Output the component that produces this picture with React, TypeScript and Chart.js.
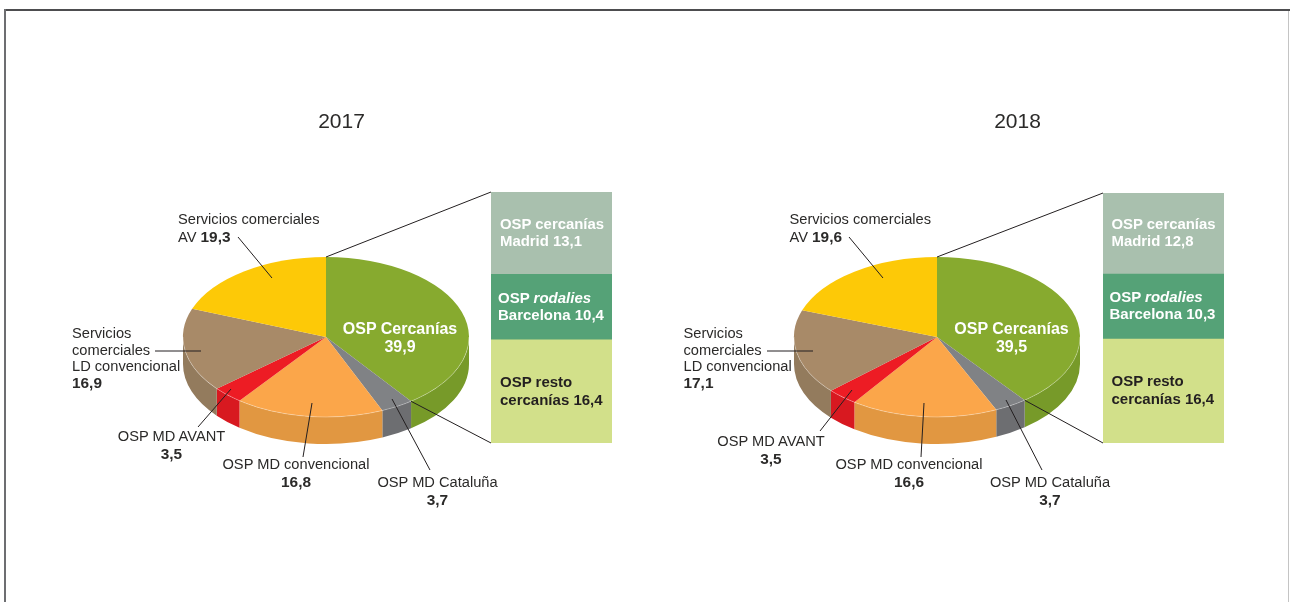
import React, { useEffect, useRef } from "react";
import { Chart, registerables } from "chart.js";

Chart.register(...registerables);

const pieLabels = ["OSP Cercanías", "OSP MD Cataluña", "OSP MD convencional", "OSP MD AVANT", "Servicios comerciales LD convencional", "Servicios comerciales AV"];
const pieValues2017 = [39.9, 3.7, 16.8, 3.5, 16.9, 19.3];
const pieValues2018 = [39.5, 3.7, 16.6, 3.5, 17.1, 19.6];
const barLabels = ["OSP resto cercanías", "OSP rodalies Barcelona", "OSP cercanías Madrid"];
const barValues2017 = [16.4, 10.4, 13.1];
const barValues2018 = [16.4, 10.3, 12.8];

const pieTop = ["#87aa2f", "#808285", "#fba64a", "#ed1c24", "#a88a68", "#fdc907"];
const pieWall = ["#779a29", "#6d6e71", "#e19741", "#d81920", "#937b5d", "#d8ac06"];
const barColors = ["#d2e08a", "#55a277", "#a9c0ae"];

const W = 1290;
const H = 602;
const INK = "#231f20";
const FONT = '"Liberation Sans", Arial, sans-serif';
const RX = 143;
const RY = 80;
const DEPTH = 27;

const fmt = (v: number) => v.toFixed(1).replace(".", ",");

type Seg = [number, number, number, number];

const leaders2017: Seg[] = [
  [238, 237, 272, 278],
  [155, 351, 201, 351],
  [198, 427, 231, 389],
  [303, 457, 312, 403],
  [430, 470, 392, 399],
];
const leaders2018: Seg[] = [
  [849, 237, 883, 278],
  [767, 351, 813, 351],
  [820, 431, 852, 390],
  [921, 457, 924, 403],
  [1042, 470, 1006, 400],
];

function makePie(canvas: HTMLCanvasElement, values: number[], cx: number, cy: number, barX: number, barTop: number, barBottom: number, leaders: Seg[]) {
  const squash: any = {
    id: "squash",
    beforeDatasetsDraw(chart: any) {
      const { ctx } = chart;
      const arcs = chart.getDatasetMeta(0).data;
      arcs.forEach((arc: any, i: number) => {
        const a0 = Math.max(arc.startAngle, 0);
        const a1 = Math.min(arc.endAngle, Math.PI);
        if (a1 <= a0) return;
        ctx.beginPath();
        ctx.ellipse(cx, cy, RX, RY, 0, a0, a1);
        ctx.ellipse(cx, cy + DEPTH, RX, RY, 0, a1, a0, true);
        ctx.closePath();
        ctx.fillStyle = pieWall[i];
        ctx.fill();
      });
      ctx.save();
      ctx.translate(0, cy);
      ctx.scale(1, RY / RX);
      ctx.translate(0, -cy);
    },
    afterDatasetsDraw(chart: any) {
      const { ctx } = chart;
      ctx.restore();
      ctx.beginPath();
      ctx.ellipse(cx, cy, RX, RY, 0, 0, Math.PI);
      ctx.strokeStyle = "rgba(255,255,255,0.3)";
      ctx.lineWidth = 1;
      ctx.stroke();
      const endAngle = chart.getDatasetMeta(0).data[0].endAngle;
      const ex = cx + RX * Math.cos(endAngle);
      const ey = cy + RY * Math.sin(endAngle);
      const segs: Seg[] = [
        [cx, cy - RY, barX, barTop],
        [ex, ey, barX, barBottom],
        ...leaders,
      ];
      ctx.strokeStyle = INK;
      ctx.lineWidth = 1;
      segs.forEach(([x1, y1, x2, y2]) => {
        ctx.beginPath();
        ctx.moveTo(x1, y1);
        ctx.lineTo(x2, y2);
        ctx.stroke();
      });
    },
  };
  return new Chart(canvas, {
    type: "doughnut",
    data: {
      labels: pieLabels,
      datasets: [{ data: values, backgroundColor: pieTop, borderWidth: 0, clip: false } as any],
    },
    options: {
      responsive: false,
      animation: false,
      cutout: 0,
      rotation: 0,
      layout: { padding: { left: cx - RX, right: W - cx - RX, top: cy - RX, bottom: H - cy - RX } },
      plugins: { legend: { display: false }, tooltip: { enabled: false } },
    } as any,
    plugins: [squash],
  });
}

function makeBar(canvas: HTMLCanvasElement, values: number[], left: number, right: number, top: number, bottom: number) {
  const total = values.reduce((a, b) => a + b, 0);
  return new Chart(canvas, {
    type: "bar",
    data: {
      labels: [""],
      datasets: values.map((v, i) => ({
        label: barLabels[i],
        data: [v],
        backgroundColor: barColors[i],
        borderWidth: 0,
        barPercentage: 1,
        categoryPercentage: 1,
      })),
    },
    options: {
      responsive: false,
      animation: false,
      layout: { padding: { left, right: W - right, top, bottom: H - bottom } },
      scales: {
        x: { stacked: true, display: false },
        y: { stacked: true, display: false, min: 0, max: total },
      },
      plugins: { legend: { display: false }, tooltip: { enabled: false } },
    },
  });
}

function T({ x, y, lh = 17, center, color = "#2b2a29", size = 14.65, bold, children }: any) {
  return (
    <div
      style={{
        position: "absolute",
        left: x,
        top: y,
        transform: center ? "translateX(-50%)" : undefined,
        textAlign: center ? "center" : "left",
        font: `${bold ? "bold " : ""}${size}px/${lh}px ${FONT}`,
        color,
        whiteSpace: "nowrap",
      }}
    >
      {children}
    </div>
  );
}

const B = ({ children }: any) => <b style={{ fontSize: 15.4 }}>{children}</b>;

function Panel({ year, pie, bar, dx, pos }: { year: number; pie: number[]; bar: number[]; dx: number; pos: any }) {
  return (
    <>
      <T x={pos.titleX} y={109} lh={24} center size={21}>{year}</T>
      <T x={dx + 178} y={211}>Servicios comerciales<br />AV <B>{fmt(pie[5])}</B></T>
      <T x={dx + 72} y={325} lh={16.7}>Servicios<br />comerciales<br />LD convencional<br /><B>{fmt(pie[4])}</B></T>
      <T x={pos.avantX} y={pos.avantY} center>OSP MD AVANT<br /><B>{fmt(pie[3])}</B></T>
      <T x={pos.convX} y={456} center>OSP MD convencional<br /><B>{fmt(pie[2])}</B></T>
      <T x={pos.catX} y={473} center lh={18}>OSP MD Cataluña<br /><B>{fmt(pie[1])}</B></T>
      <T x={dx + 400} y={320} center bold color="#fff" size={16} lh={18}>OSP Cercanías<br />{fmt(pie[0])}</T>
      <T x={dx + 500} y={216} bold color="#fff" size={14.9}>OSP cercanías<br />Madrid {fmt(bar[2])}</T>
      <T x={dx + 498} y={pos.rodY} bold color="#fff" size={15} lh={16.5}>OSP <i>rodalies</i><br />Barcelona {fmt(bar[1])}</T>
      <T x={dx + 500} y={pos.restoY} bold color="#231f20" size={15} lh={18}>OSP resto<br />cercanías {fmt(bar[0])}</T>
    </>
  );
}

export default function App() {
  const pieA = useRef<HTMLCanvasElement>(null);
  const pieB = useRef<HTMLCanvasElement>(null);
  const barA = useRef<HTMLCanvasElement>(null);
  const barB = useRef<HTMLCanvasElement>(null);

  useEffect(() => {
    document.body.style.margin = "0";
    document.body.style.overflow = "hidden";
    const charts = [
      makeBar(barA.current!, barValues2017, 491, 612, 192, 443),
      makeBar(barB.current!, barValues2018, 1103, 1224, 193, 443),
      makePie(pieA.current!, pieValues2017, 326, 337, 491, 192, 443, leaders2017),
      makePie(pieB.current!, pieValues2018, 937, 337, 1103, 193, 443, leaders2018),
    ];
    return () => charts.forEach((c) => c.destroy());
  }, []);

  const layer: React.CSSProperties = { position: "absolute", left: 0, top: 0 };
  return (
    <div style={{ position: "relative", width: W, height: H, overflow: "hidden", background: "#fff" }}>
      <div style={{ position: "absolute", left: 4, top: 9, width: 1286, height: 2, background: "#4d4d4f" }} />
      <div style={{ position: "absolute", left: 4, top: 9, width: 2, height: 593, background: "#6d6e71" }} />
      <div style={{ position: "absolute", left: 1288, top: 11, width: 1, height: 591, background: "#c4c4c4" }} />
      <canvas ref={barA} width={W} height={H} style={layer} />
      <canvas ref={barB} width={W} height={H} style={layer} />
      <canvas ref={pieA} width={W} height={H} style={layer} />
      <canvas ref={pieB} width={W} height={H} style={layer} />
      <Panel year={2017} pie={pieValues2017} bar={barValues2017} dx={0}
        pos={{ titleX: 341.5, avantX: 171.5, avantY: 428, convX: 296, catX: 437.5, rodY: 290, restoY: 373 }} />
      <Panel year={2018} pie={pieValues2018} bar={barValues2018} dx={611.5}
        pos={{ titleX: 1017.5, avantX: 771, avantY: 433, convX: 909, catX: 1050, rodY: 289, restoY: 372 }} />
    </div>
  );
}
